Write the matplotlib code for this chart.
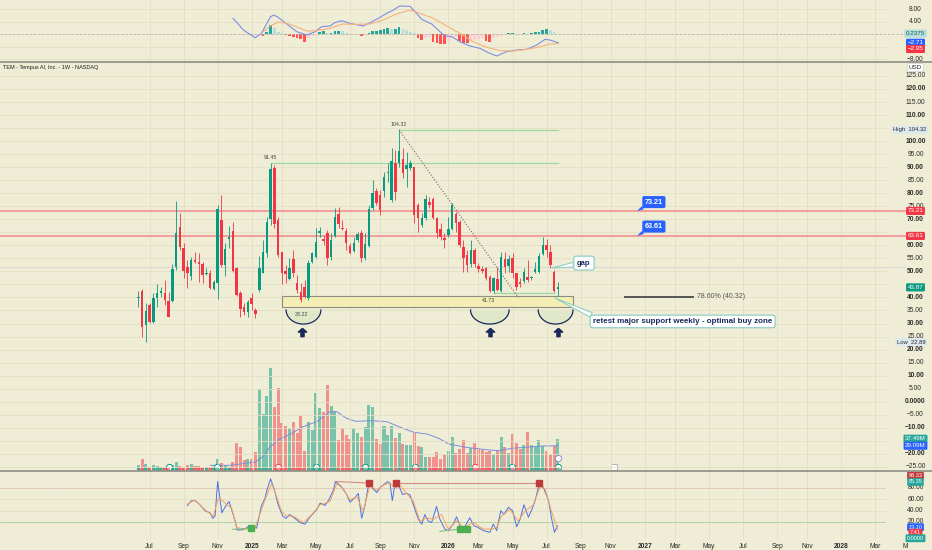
import datetime as dt
import matplotlib
matplotlib.use("Agg")
import matplotlib.pyplot as plt
import matplotlib.dates as mdates
from matplotlib.transforms import blended_transform_factory
from matplotlib.patches import Rectangle, Polygon
from matplotlib.path import Path
from matplotlib.lines import Line2D
import numpy as np

plt.rcParams['font.family'] = ['Liberation Sans', 'DejaVu Sans']

## Weekly candles of TEM, first bar = week of 10 Jun 2024
first_week = dt.date(2024, 6, 10)

opens = [39.7, 42.6, 29.4, 37.1, 30.7, 39.7, 41.6, 41.6, 38.8, 38.8,
         51.8, 66.9, 59.1, 51.8, 48.4, 54.4, 53.7, 52.8, 49.0, 49.5,
         43.3, 45.7, 69.7, 52.5, 62.6, 65.5, 51.2, 41.8, 36.2, 34.6,
         39.7, 35.2, 42.9, 49.5, 56.9, 70.0, 89.8, 69.7, 57.3, 50.0,
         47.0, 54.8, 45.4, 42.2, 44.1, 39.7, 53.7, 55.7, 64.6, 62.4,
         64.6, 55.4, 63.6, 71.9, 66.5, 65.6, 59.8, 58.0, 62.1, 64.9,
         55.0, 59.8, 74.2, 80.9, 79.3, 80.9, 87.6, 77.4, 91.5, 91.5,
         93.1, 89.2, 89.6, 89.9, 75.5, 67.8, 70.4, 76.8, 77.8, 70.4,
         66.2, 62.7, 64.0, 66.2, 72.0, 69.1, 59.5, 56.3, 52.8, 58.2,
         52.1, 50.8, 51.2, 47.7, 42.5, 47.1, 42.6, 54.8, 52.1, 55.0,
         49.3, 46.1, 46.5, 47.7, 47.3, 49.7, 49.7, 56.7, 60.1, 57.6,
         49.7, 43.2]
highs = [42.5, 43.1, 37.8, 37.8, 41.6, 45.2, 44.1, 46.7, 42.2, 52.8,
         77.0, 72.3, 60.8, 54.4, 55.7, 57.6, 56.9, 53.7, 51.2, 50.5,
         46.7, 75.5, 79.3, 60.8, 67.4, 69.1, 51.8, 42.6, 37.8, 39.0,
         41.8, 35.8, 55.9, 62.1, 71.0, 91.45, 90.9, 70.8, 57.6, 52.5,
         55.0, 58.2, 48.6, 45.4, 46.7, 54.4, 57.6, 66.5, 67.2, 64.0,
         65.9, 64.6, 74.2, 74.6, 69.7, 66.5, 60.8, 63.3, 65.3, 65.9,
         64.6, 75.5, 85.1, 81.9, 81.2, 88.3, 91.5, 97.2, 96.6, 104.32,
         97.2, 96.0, 92.8, 90.2, 76.1, 72.3, 79.3, 78.4, 78.4, 71.0,
         68.5, 64.6, 71.0, 76.1, 72.9, 69.7, 62.1, 58.2, 62.1, 58.9,
         53.1, 52.1, 51.8, 48.6, 47.7, 51.8, 57.6, 57.6, 56.3, 56.9,
         49.5, 47.3, 51.2, 54.4, 48.2, 53.7, 56.9, 63.1, 62.3, 60.1,
         50.5, 46.0]
lows = [36.5, 24.7, 22.89, 30.3, 30.1, 36.5, 40.3, 37.1, 32.4, 38.4,
        50.5, 58.2, 47.3, 43.5, 46.7, 53.1, 46.1, 45.4, 48.6, 43.1,
        42.9, 39.3, 51.8, 48.2, 58.9, 49.9, 40.7, 32.4, 33.3, 32.6,
        35.2, 32.0, 42.2, 49.3, 55.7, 67.8, 66.5, 55.7, 45.0, 45.5,
        46.7, 48.0, 41.6, 38.22, 39.7, 39.0, 53.1, 55.0, 63.3, 60.1,
        52.5, 54.4, 63.3, 66.5, 65.9, 58.2, 56.7, 57.6, 61.4, 53.7,
        54.4, 59.5, 73.6, 75.5, 71.7, 78.7, 84.4, 76.8, 77.4, 90.2,
        85.7, 82.5, 88.9, 68.5, 65.3, 67.2, 69.7, 74.2, 70.2, 62.7,
        62.1, 58.9, 63.3, 65.9, 65.3, 59.5, 49.9, 49.9, 51.8, 51.8,
        49.9, 49.5, 46.7, 42.2, 41.73, 42.3, 42.2, 49.3, 49.9, 47.3,
        42.9, 43.9, 45.4, 46.1, 46.7, 49.3, 49.3, 56.3, 55.7, 51.2,
        42.2, 40.6]
closes = [40.3, 28.5, 34.9, 30.7, 39.7, 41.6, 42.4, 39.0, 32.6, 50.8,
          64.9, 59.2, 50.2, 49.3, 54.4, 53.7, 52.8, 48.6, 49.5, 43.5,
          46.1, 74.0, 52.5, 58.6, 63.3, 50.3, 40.9, 35.4, 34.6, 38.4,
          37.4, 33.5, 51.4, 57.3, 68.8, 89.3, 68.1, 56.3, 49.3, 48.9,
          51.2, 49.3, 42.9, 39.0, 40.3, 53.1, 56.9, 61.4, 65.5, 61.8,
          55.0, 62.1, 71.0, 68.2, 66.2, 60.8, 56.9, 60.8, 64.2, 55.0,
          60.5, 74.0, 80.2, 76.1, 73.6, 86.1, 88.3, 92.4, 80.6, 96.3,
          87.6, 90.8, 91.7, 71.7, 70.4, 70.4, 77.7, 75.5, 70.4, 64.6,
          63.3, 62.1, 66.2, 75.5, 68.5, 60.1, 55.0, 52.5, 58.2, 52.8,
          50.8, 50.3, 47.3, 42.6, 47.3, 42.9, 55.7, 51.8, 54.8, 49.3,
          43.9, 45.2, 49.9, 46.7, 47.7, 50.9, 56.0, 60.1, 58.2, 52.5,
          42.6, 43.87]
## volume in millions
volume_m = [6.0, 13.2, 7.6, 3.2, 5.6, 4.8, 3.2, 3.2, 4.8, 5.6,
            9.2, 4.8, 4.0, 5.6, 6.8, 4.8, 4.8, 4.0, 3.2, 3.2,
            4.0, 12.8, 8.0, 6.0, 4.0, 9.2, 32.7, 27.2, 12.0, 13.2,
            13.2, 22.0, 97.0, 67.1, 88.6, 121.8, 75.1, 98.6, 55.9, 52.7,
            49.9, 57.9, 43.9, 64.7, 23.2, 57.1, 47.9, 91.8, 74.7, 69.1,
            101.8, 77.1, 71.1, 35.9, 49.9, 41.9, 37.1, 49.9, 43.9, 39.1,
            51.1, 77.9, 75.9, 37.1, 31.1, 52.7, 41.9, 52.7, 37.9, 43.9,
            31.1, 29.9, 29.9, 44.7, 28.7, 28.0, 16.0, 15.6, 15.6, 21.2,
            13.2, 18.0, 22.8, 39.1, 20.0, 24.8, 35.9, 20.8, 26.0, 32.3,
            26.8, 24.0, 22.0, 23.2, 18.0, 23.2, 39.9, 27.2, 20.8, 43.1,
            32.7, 24.8, 29.9, 45.5, 29.9, 28.7, 35.9, 28.7, 23.2, 18.8,
            28.7, 37.49]

## volume moving average (bar number, millions)
vol_ma_w = [20, 25.2, 27.9, 31.9, 34, 35.8, 38, 41, 44.6, 48.2, 51.7, 53.5, 56.1, 58.5,
            62.9, 66.8, 69.9, 73.9, 77.4, 80.5, 83.2, 87.6, 93.7, 96.4, 99.9, 103.4, 107.9, 112]
vol_ma_v = [5.6, 5.6, 7.2, 9.6, 16, 27.2, 35.9, 42.3, 51.9, 57.9, 69.9, 69.9, 61.9, 58.3,
            59.1, 57.9, 51.9, 45.1, 43.1, 37.9, 31.1, 27.2, 24.0, 23.2, 26.0, 27.2, 28.7, 29.09]

## MACD pane
macd_w = [26.1, 28.8, 31.9, 33.6, 35.0, 36.0, 36.9, 38.0, 40.3, 42.9, 45.6, 47.8, 49.5, 51.7,
          53.0, 54.8, 57.0, 60.5, 62.3, 64.5, 66.7, 68.5, 70.1, 72.9, 74.2, 76.0, 78.6, 80.8,
          82.1, 83.9, 86.1, 88.7, 91.4, 93.6, 95.8, 98.4, 101.1, 103.7, 106.4, 108.6, 109.9, 112.1]
macd_v = [5.11, 1.38, -1.08, 0.31, 3.51, 5.64, 6.18, 5.43, 3.3, 0.84, -0.22, 0.84, 2.44, 2.66,
          3.72, 4.36, 3.51, 2.66, 3.72, 5.11, 6.71, 7.78, 9.06, 8.95, 7.24, 4.79, 3.3, 0.84,
          -0.54, -0.76, -2.36, -3.74, -4.49, -5.88, -6.94, -5.56, -5.02, -4.81, -3.42, -1.61, -1.82, -2.71]
signal_w = [34.1, 35.9, 38.0, 40.2, 42.8, 45.5, 48.1, 51.6, 55.1, 58.7, 62.2, 65.8, 69.3,
            72.9, 75.5, 79.1, 82.6, 86.1, 89.6, 93.2, 96.7, 100.2, 103.8, 107.3, 110.0, 112.1]
signal_v = [0.84, 2.66, 3.94, 3.51, 2.44, 1.06, 1.16, 1.91, 3.3, 3.19, 3.3, 4.58, 6.5,
            7.78, 6.71, 5.11, 2.66, 0.31, -2.36, -4.17, -5.24, -5.34, -4.81, -3.96, -3.1, -2.95]
hist_first = 34
hist_v = [-0.44, 0.84, 2.98, 1.9, 0.84, 0.3, -0.33, -0.54, -0.76, -1.18, -1.6, -2.36, -1.29,
          -0.54, 0.0, 0.6, 0.9, 0.5, 0.5, 1.0, 1.2, 0.9, 0.5, 0.2, 0.05, 0.05, -0.4, 0.05,
          0.3, 1.0, 1.1, 1.3, 1.6, 2.1, 1.6, 1.8, 2.2, 1.8, 1.4, 0.7, 0.3, -1.3, -1.8, -1.3,
          -0.8, -2.4, -2.7, -3.1, -3.2, -2.0, -1.0, -0.8, -2.1, -2.7, -2.9, -1.8, -1.8, -1.6,
          -1.3, -2.1, -2.3, -1.3, -1.0, -0.6, -0.1, 0.3, 0.3, 0.05, 0.05, 0.3, 0.1, 0.3, 0.6,
          0.8, 1.5, 1.8, 1.4, 0.6, 0.2375]

## Stoch RSI pane
k_w = [13.97, 15.1, 16.0, 17.3, 18.6, 20.0, 20.7, 21.3, 22.0, 23.1, 24.2, 25.0, 25.7, 26.6,
       27.2, 28.8, 30.1, 31.4, 32.3, 33.6, 34.5, 35.1, 36.0, 36.9, 38.0, 39.2, 40.1, 41.0,
       42.0, 43.8, 45.1, 46.4, 48.2, 49.1, 50.4, 51.4, 52.6, 53.2, 54.8, 56.1, 57.0, 58.3,
       59.2, 60.1, 61.0, 62.0, 63.2, 64.1, 65.1, 67.0, 67.6, 68.2, 68.9, 69.8, 70.9, 72.0,
       72.9, 74.2, 75.1, 76.0, 76.8, 77.7, 78.6, 79.9, 80.8, 82.1, 83.0, 84.3, 85.2, 86.1,
       87.0, 88.7, 89.8, 90.9, 92.3, 94.0, 94.9, 95.8, 96.9, 97.7, 98.9, 100.0, 101.1, 102.0,
       103.0, 104.2, 105.1, 105.9, 106.6, 107.1, 108.1, 109.5, 110.3, 111.1, 111.9]
k_v = [49.1, 57.7, 57.7, 50.3, 40.0, 36.0, 26.3, 30.3, 91.4, 36.0, 49.1, 56.0, 41.7, 21.7,
       5.7, 6.3, 11.4, 10.3, 9.1, 49.1, 61.7, 77.7, 96.0, 78.9, 50.3, 30.3, 26.3, 33.1,
       28.6, 18.9, 16.0, 28.6, 41.7, 53.1, 49.1, 58.9, 76.0, 91.4, 81.7, 68.6, 54.9, 62.9,
       70.3, 26.3, 50.3, 89.1, 77.7, 72.0, 81.7, 91.4, 87.4, 57.7, 87.4, 85.7, 68.6, 70.3,
       67.4, 41.7, 24.6, 16.0, 33.1, 21.7, 18.9, 47.4, 24.6, 7.4, 4.6, 16.0, 29.1, 13.1,
       7.4, 27.4, 13.1, 10.3, 4.6, 1.7, 16.0, 4.6, 40.0, 33.1, 45.7, 40.0, 11.4, 24.6,
       50.3, 28.6, 41.7, 56.0, 74.3, 87.4, 81.7, 58.9, 27.4, 1.7, 13.1]
d_w = [13.97, 16.0, 18.6, 20.8, 22.2, 23.1, 24.4, 25.7, 27.0, 29.2, 31.9, 33.6, 35.0, 36.3,
       37.6, 38.9, 40.2, 42.0, 44.7, 46.9, 49.1, 51.7, 53.5, 55.2, 57.0, 58.8, 60.5, 62.3,
       64.1, 65.8, 67.6, 68.9, 70.2, 72.0, 73.8, 75.5, 77.3, 79.0, 81.2, 83.0, 85.2, 87.0,
       89.6, 92.3, 94.5, 95.8, 97.1, 99.3, 101.5, 103.3, 105.5, 107.3, 108.6, 110.3, 111.9]
d_v = [51.4, 58.9, 41.7, 30.3, 61.7, 58.9, 50.3, 44.6, 10.3, 7.4, 10.3, 41.7, 67.4, 87.4,
       64.6, 38.9, 30.3, 30.3, 18.9, 33.1, 50.3, 56.0, 87.4, 78.9, 58.9, 64.6, 38.9, 84.6,
       76.0, 84.6, 89.1, 80.0, 84.6, 70.3, 56.0, 21.7, 27.4, 24.6, 33.1, 7.4, 21.7, 10.3,
       18.9, 7.4, 7.4, 10.3, 30.3, 41.7, 21.7, 38.9, 50.3, 81.7, 78.9, 38.9, 7.4]

## axis tick labels (first weekly bar of each month)
tick_months = ["2024-07", "2024-09", "2024-11", "2025-01", "2025-03", "2025-05", "2025-07",
               "2025-09", "2025-11", "2026-01", "2026-03", "2026-05", "2026-07", "2026-09",
               "2026-11", "2027-01", "2027-03", "2027-05", "2027-07", "2027-09", "2027-11",
               "2028-01", "2028-03", "2028-05"]
tick_labels = ["Jul", "Sep", "Nov", "2025", "Mar", "May", "Jul", "Sep", "Nov", "2026", "Mar",
               "May", "Jul", "Sep", "Nov", "2027", "Mar", "May", "Jul", "Sep", "Nov", "2028",
               "Mar", "M"]
price_ticks = list(range(-25, 130, 5))

## levels drawn on the chart
resistance = [73.21, 63.61]
fib_level = 40.32
zone_low, zone_high = 36.2, 40.4

# ---------------------------------------------------------------------------
W, H = 932, 550
BG = '#f0edd6'
GRID = '#e2dfc4'
GREEN = '#089981'
RED = '#f23645'
NAVY = '#1b2a5c'
TEXT = '#2b2b2b'

t0 = mdates.date2num(first_week)


def wk(w):
    # bar number (1 = first week) -> matplotlib date number
    return t0 + 7 * (np.asarray(w, dtype=float) - 1)


n = len(closes)
xs = wk(np.arange(1, n + 1))
up = [c >= o for o, c in zip(opens, closes)]
ccol = [GREEN if u else RED for u in up]

tick_x = []
for m in tick_months:
    d = dt.date(int(m[:4]), int(m[5:]), 1)
    d += dt.timedelta(days=(7 - d.weekday()) % 7)
    tick_x.append(mdates.date2num(d))

x_left = t0 - 138.3 / 0.54
x_right = t0 + (886 - 138.3) / 0.54

fig = plt.figure(figsize=(W / 100, H / 100), dpi=100, facecolor=BG)


def pane(top, bottom):
    return fig.add_axes([0, 1 - bottom / H, 886 / W, (bottom - top) / H])


ax_m = pane(0, 62)
ax = pane(62, 471)
ax_s = pane(471, 539)
ax_v = ax.twinx()
ax.set_zorder(ax_v.get_zorder() + 1)
ax.patch.set_visible(False)

for a in (ax_m, ax, ax_s, ax_v):
    for s in a.spines.values():
        s.set_visible(False)
    a.tick_params(length=0, labelleft=False, labelright=False, labelbottom=False)
ax_m.set_facecolor(BG)
ax_s.set_facecolor(BG)

# grids (vertical grid only at ticks inside the visible range)
grid_x = [x for x in tick_x if x_left < x < x_right]
for a, yt in ((ax_m, [-8, -4, 0, 4, 8]), (ax, price_ticks), (ax_s, [20, 40, 60, 80])):
    a.set_xticks(grid_x)
    a.set_yticks(yt)
    a.grid(True, color=GRID, linewidth=0.6)
    a.set_axisbelow(True)
ax_v.set_yticks([])

# ---- volume (overlay) ----
vcol = [GREEN if u else RED for u in up]
ax_v.bar(xs, volume_m, width=5.6, color=vcol, alpha=0.5, linewidth=0)
ax_v.plot(wk(vol_ma_w), vol_ma_v, color='#7b8ddb', linewidth=0.7)

# ---- candles ----
ax.vlines(xs, lows, highs, colors=ccol, linewidth=0.6, zorder=3)
bodies = [max(abs(c - o), 0.3) for o, c in zip(opens, closes)]
ax.bar(xs, bodies, bottom=[min(o, c) for o, c in zip(opens, closes)], width=4.6,
       color=ccol, linewidth=0, zorder=4)

# ---- drawings ----
for lvl in resistance:
    ax.axhline(lvl, xmax=905 / 886, color='#f2a09c', linewidth=1.5, clip_on=False, zorder=2)
ax.axhline(51.8, xmax=905 / 886, color='#dcdad0', linewidth=0.9, clip_on=False, zorder=1)

ax.plot(wk([70, 112]), [104.32, 104.32], color='#9fd89c', linewidth=0.9, zorder=2)
ax.plot(wk([36, 112]), [91.45, 91.45], color='#9fd89c', linewidth=0.9, zorder=2)
ax.plot(wk([95, 111]), [41.73, 41.73], color='#9fd89c', linewidth=0.9, zorder=2)
ax.plot(wk([70, 101.5]), [104.32, 40.06], color='#6b6b6b', linewidth=0.8,
        linestyle=(0, (1, 1.6)), zorder=5)

ax.add_patch(Rectangle((wk(38.9), zone_low), wk(115.9) - wk(38.9), zone_high - zone_low,
                       facecolor='#f4eeb4', edgecolor='#8d8d84', linewidth=0.8, zorder=2))

for cx, hw in ((44.7, 4.6), (94.0, 5.1), (111.4, 4.6)):
    t = np.linspace(np.pi, 2 * np.pi, 40)
    px = wk(cx) + hw * 7 * np.cos(t)
    py = 35.2 + 5.4 * np.sin(t)
    ax.add_patch(Polygon(np.column_stack([px, py]), closed=True, facecolor='#dfe8c9',
                         edgecolor='none', alpha=0.9, zorder=2))
    ax.plot(px, py, color=NAVY, linewidth=0.9, zorder=3)

arrow = Path([(0, 1), (-1, 0.1), (-0.38, 0.1), (-0.38, -1), (0.38, -1), (0.38, 0.1), (1, 0.1), (0, 1)])
ax.plot(wk([44.2, 94.0, 112.0]), [26.6] * 3, linestyle='none', marker=arrow,
        markersize=6, color=NAVY, zorder=5)

ax.text(wk(70), 106.5, '104.32', fontsize=3.8, color='#444444', ha='center', va='center')
ax.text(wk(36), 93.6, '91.45', fontsize=3.8, color='#444444', ha='center', va='center')
ax.text(wk(44.2), 33.6, '38.22', fontsize=3.8, color='#444444', ha='center', va='center')
ax.text(wk(93.6), 39.0, '41.73', fontsize=3.8, color='#444444', ha='center', va='center')

ax.plot(wk([129.7, 147.7]), [fib_level, fib_level], color='#555555', linewidth=1.4)
ax.text(wk(148.8), fib_level, '78.60% (40.32)', fontsize=5, color='#555555', va='center')

for lvl, yb in ((73.21, 76.6), (63.61, 67.2)):
    ax.annotate(f'{lvl:.2f}', xy=(wk(132.9), lvl), xytext=(wk(137.4), yb), ha='center',
                va='center', fontsize=5.2, color='white', fontweight='bold', zorder=8,
                bbox=dict(boxstyle='round,pad=0.35,rounding_size=0.25', fc='#2962ff', ec='none'),
                arrowprops=dict(arrowstyle='wedge,tail_width=0.5', fc='#2962ff', ec='none',
                                relpos=(0.12, 0.0), shrinkA=0, shrinkB=0))

ax.annotate('gap', xy=(wk(110.4), 51.3), xytext=(wk(118.9), 53.2), ha='center', va='center',
            fontsize=5.5, color=NAVY, fontweight='bold', zorder=8,
            bbox=dict(boxstyle='round,pad=0.45,rounding_size=0.3', fc='white', ec='#86cbc1', lw=0.8),
            arrowprops=dict(arrowstyle='wedge,tail_width=0.6', fc='white', ec='#86cbc1', lw=0.7,
                            relpos=(0.0, 0.35), shrinkA=0, shrinkB=0))

ax.annotate('retest major support weekly - optimal buy zone', xy=(wk(111.2), 39.8),
            xytext=(wk(145.0), 30.8), ha='center', va='center', fontsize=5.8, color=NAVY,
            fontweight='bold', zorder=8,
            bbox=dict(boxstyle='round,pad=0.35,rounding_size=0.3', fc='white', ec='#86cbc1', lw=0.8),
            arrowprops=dict(arrowstyle='wedge,tail_width=0.6', fc='white', ec='#86cbc1', lw=0.7,
                            relpos=(0.03, 0.95), shrinkA=0, shrinkB=0))

# earnings markers on the volume baseline
for w, ec in ((9.04, GREEN), (21.9, GREEN), (38.0, RED), (48.0, GREEN), (61.0, GREEN),
              (74.2, GREEN), (90.1, RED), (99.9, GREEN), (111.95, GREEN)):
    ax_v.plot(wk(w), 4.0, marker='o', markersize=4.5, markerfacecolor='white',
              markeredgecolor=ec, markeredgewidth=0.7, zorder=6)
ax_v.plot(wk(111.95), 14.0, marker='o', markersize=4.5, markerfacecolor='white',
          markeredgecolor='#8a93c8', markeredgewidth=0.7, zorder=6)
ax_v.plot(wk(126.8), 4.0, marker='s', markersize=4, markerfacecolor='white',
          markeredgecolor='#aaaaaa', markeredgewidth=0.6, zorder=6)

# strip of bar colours along the bottom edge
ax.bar(xs, 1.3, bottom=-26.59, width=6.6, color=vcol, alpha=0.55, linewidth=0, zorder=2)

# ---- MACD ----
ax_m.axhline(0, xmax=905 / 886, color='#b8b6a6', linewidth=0.6, linestyle=(0, (3, 2)), clip_on=False)
hcol = []
prev = 0.0
for h in hist_v:
    if h >= 0:
        hcol.append('#26a69a' if h >= prev else '#b2dfdb')
    else:
        hcol.append('#ffcdd2' if h >= prev else '#ff5252')
    prev = h
ax_m.bar(wk(np.arange(hist_first, hist_first + len(hist_v))), hist_v, width=5.0,
         color=hcol, linewidth=0)
ax_m.plot(wk(macd_w), macd_v, color='#7d8fe3', linewidth=0.8)
ax_m.plot(wk(signal_w), signal_v, color='#f7b17c', linewidth=0.8)

# ---- Stoch RSI ----
ax_s.axhline(80, color='#dba69f', linewidth=0.6, linestyle=(0, (1, 1.5)))
ax_s.axhline(20, color='#a9d0a4', linewidth=0.6)
ax_s.plot(wk(k_w), k_v, color='#4d6fe6', linewidth=0.7)
ax_s.plot(wk(d_w), d_v, color='#f7a35c', linewidth=0.7)
ax_s.plot(wk([53.0, 62.1]), [91.4, 88.6], color='#d98a86', linewidth=0.8)
ax_s.plot(wk([69.1, 107.0]), [88.6, 88.6], color='#d98a86', linewidth=0.8)
ax_s.plot(wk([26.0, 30.9]), [6.9, 8.6], color='#7fbf83', linewidth=0.8)
ax_s.plot(wk([80.8, 86.1]), [3.4, 7.4], color='#7fbf83', linewidth=0.8)
ax_s.plot(wk([62.1, 69.1, 107.0]), [88.6] * 3, linestyle='none', marker='s', markersize=4,
          color='#c0393b')
ax_s.plot(wk([30.9, 86.1, 88.0]), [8.6, 7.4, 7.4], linestyle='none', marker='s', markersize=4,
          color='#4caf50')

# ---- right price scale ----
XL = 915.5 / W


def scale_text(a, y, s, bold=False, size=4.8):
    a.text(XL, y, s, transform=blended_transform_factory(fig.transFigure, a.transData),
           ha='center', va='center', fontsize=size, color=TEXT, clip_on=False,
           fontweight='bold' if bold else 'normal', zorder=9)


def scale_box(a, y, s, fc, tc='white', data_ax=None, ec='none', x=XL, size=4.5):
    tr = blended_transform_factory(fig.transFigure, (data_ax or a).transData)
    a.text(x, y, s, transform=tr, ha='center', va='center', fontsize=size, color=tc,
           clip_on=False, zorder=12,
           bbox=dict(boxstyle='round,pad=0.25,rounding_size=0.2', fc=fc, ec=ec, lw=0.5))


for v in price_ticks:
    if v in (105, 65, 45, -15):
        continue
    lab = '0.0000' if v == 0 else f'{v:.2f}'.replace('-', '\u2212')
    scale_text(ax, v, lab, bold=(v % 10 == 0))
scale_box(ax, 128.2, 'USD', 'white', tc=TEXT, ec='#cfcfcf')
scale_box(ax, 104.32, 'High  104.32', '#dde8ee', tc=TEXT, x=910 / W, size=4.2)
scale_box(ax, 22.89, 'Low  22.89', '#dde8ee', tc=TEXT, x=911 / W, size=4.2)
scale_box(ax, 73.21, '73.21', RED)
scale_box(ax, 63.61, '63.61', RED)
scale_box(ax, 43.87, '43.87', GREEN)
scale_box(ax, 37.49, '37.49M', '#26a69a', data_ax=ax_v)
scale_box(ax, 29.09, '29.09M', '#2962ff', data_ax=ax_v)

for v, lab in ((8, '8.00'), (4, '4.00'), (-8, '\u22128.00')):
    scale_text(ax_m, v, lab)
scale_box(ax_m, 0.2375, '0.2375', '#b2dfdb', tc='#1d5e57')
scale_box(ax_m, -2.71, '\u22122.71', '#2962ff')
scale_box(ax_m, -4.7, '\u22122.95', RED)

for v in (80, 60, 40, 20):
    scale_text(ax_s, v, f'{v:.2f}')
scale_box(ax_s, 101.5, '88.33', '#c0393b', size=4.0)
scale_box(ax_s, 90.5, '85.35', '#26a69a', size=4.0)
scale_box(ax_s, 10.8, '13.10', '#2962ff', size=4.0)
scale_box(ax_s, 1.0, '7.41', RED, size=4.0)
scale_box(ax_s, -8.8, '0.0000', '#26a69a', size=4.0)

# ---- time axis labels ----
ttr = blended_transform_factory(ax_s.transData, fig.transFigure)
for x, lab in zip(tick_x, tick_labels):
    ax_s.text(x, 1 - 546 / H, lab, transform=ttr, ha='center', va='center', fontsize=4.8,
              color=TEXT, clip_on=False, fontweight='bold' if lab.isdigit() else 'normal')

# limits last, so that ticks cannot widen them
for a in (ax_m, ax, ax_s, ax_v):
    a.set_xlim(x_left, x_right)
ax.set_ylim(-26.59, 130.35)
ax_v.set_ylim(-1.2, 488.8)
ax_m.set_ylim(-8.86, 10.98)
ax_s.set_ylim(-10.1, 109.9)

# pane separators and header
for yy in (62, 471):
    fig.add_artist(Line2D([0, 1], [1 - yy / H] * 2, color='#8e8e84', linewidth=1.2))
fig.text(3 / W, 1 - 67 / H, 'TEM - Tempus AI, Inc. - 1W - NASDAQ', fontsize=4.0, color='#1f1f1f',
         va='center')

fig.savefig('out.png', dpi=100, facecolor=BG)
